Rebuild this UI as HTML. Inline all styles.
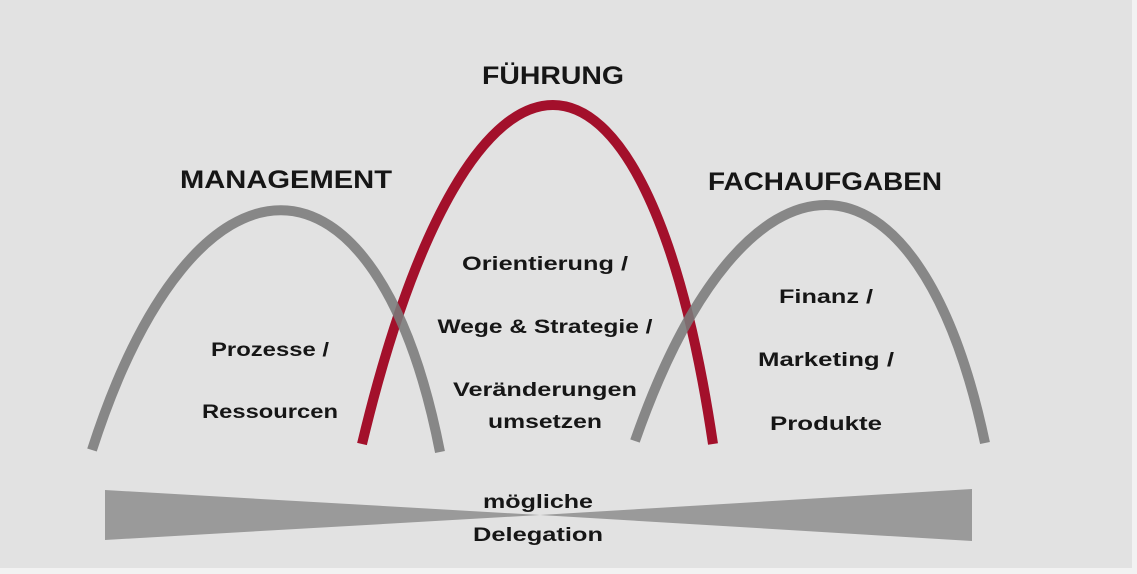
<!DOCTYPE html>
<html><head><meta charset="utf-8"><style>
html,body{margin:0;padding:0;background:#f2f2f2;}
svg{display:block;}
text{font-family:"Liberation Sans",sans-serif;font-weight:bold;fill:#161616;}
</style></head><body>
<svg width="1137" height="574" viewBox="0 0 1137 574" xmlns="http://www.w3.org/2000/svg">
<rect x="0" y="0" width="1132" height="568" fill="#e2e2e2"/>
<!-- red curve -->
<path d="M362 444 C470 -8, 646 -8, 713 444" fill="none" stroke="#a3102b" stroke-width="10"/>
<!-- gray curves -->
<path d="M92 450 C195 130, 377 130, 440 452" fill="none" stroke="#7a7a7a" stroke-opacity="0.88" stroke-width="10"/>
<path d="M635 441 C745 126, 918 126, 985 443" fill="none" stroke="#7a7a7a" stroke-opacity="0.88" stroke-width="10"/>
<!-- bowtie -->
<polygon points="105,490 540,515 105,540" fill="#9a9a9a"/>
<polygon points="972,489 540,515 972,541" fill="#9a9a9a"/>
<!-- titles -->
<text x="553" y="84" font-size="25" text-anchor="middle" textLength="142" lengthAdjust="spacingAndGlyphs">FÜHRUNG</text>
<text x="286" y="188" font-size="25" text-anchor="middle" textLength="212" lengthAdjust="spacingAndGlyphs">MANAGEMENT</text>
<text x="825" y="190" font-size="25" text-anchor="middle" textLength="234" lengthAdjust="spacingAndGlyphs">FACHAUFGABEN</text>
<!-- body -->
<g font-size="19">
<text x="545" y="270" text-anchor="middle" textLength="166" lengthAdjust="spacingAndGlyphs">Orientierung /</text>
<text x="545" y="333" text-anchor="middle" textLength="215" lengthAdjust="spacingAndGlyphs">Wege &amp; Strategie /</text>
<text x="545" y="396" text-anchor="middle" textLength="184" lengthAdjust="spacingAndGlyphs">Veränderungen</text>
<text x="545" y="428" text-anchor="middle" textLength="114" lengthAdjust="spacingAndGlyphs">umsetzen</text>
<text x="270" y="356" text-anchor="middle" textLength="118" lengthAdjust="spacingAndGlyphs">Prozesse /</text>
<text x="270" y="418" text-anchor="middle" textLength="136" lengthAdjust="spacingAndGlyphs">Ressourcen</text>
<text x="826" y="303" text-anchor="middle" textLength="94" lengthAdjust="spacingAndGlyphs">Finanz /</text>
<text x="826" y="366" text-anchor="middle" textLength="136" lengthAdjust="spacingAndGlyphs">Marketing /</text>
<text x="826" y="430" text-anchor="middle" textLength="112" lengthAdjust="spacingAndGlyphs">Produkte</text>
<text x="538" y="508" text-anchor="middle" textLength="110" lengthAdjust="spacingAndGlyphs">mögliche</text>
<text x="538" y="541" text-anchor="middle" textLength="130" lengthAdjust="spacingAndGlyphs">Delegation</text>
</g>
</svg>
</body></html>
